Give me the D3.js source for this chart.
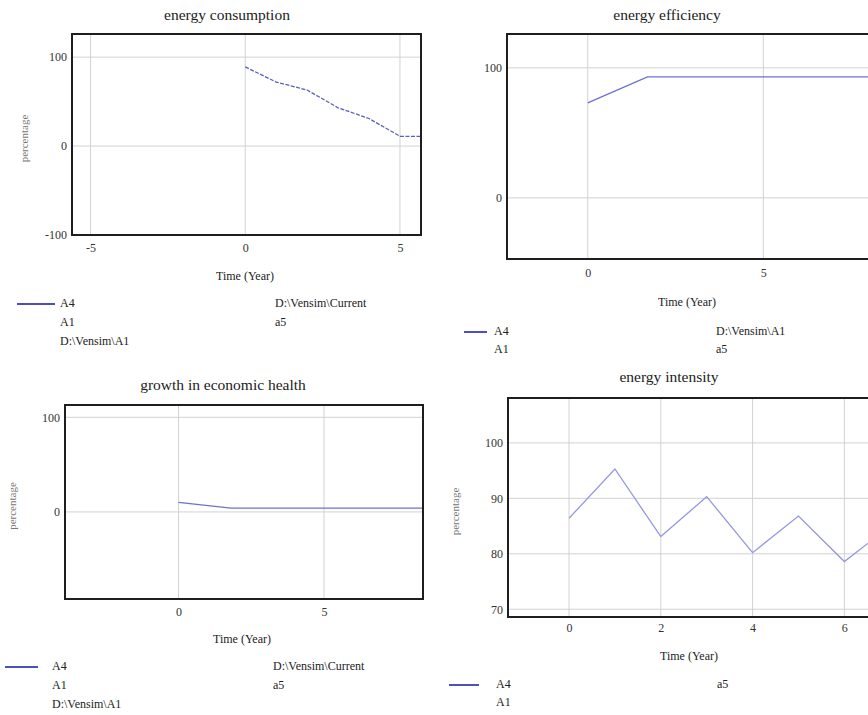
<!DOCTYPE html>
<html lang="en">
<head>
    <meta charset="UTF-8">
    <script src="https://cdn.jsdelivr.net/npm/d3@7/dist/d3.min.js"></script>
    <title>vensim panels</title>
    <style>
        body { margin: 0; background: #fff; }
        text { font-family: "Liberation Serif", "DejaVu Serif", serif; fill: #222; }
    </style>
</head>
<body>
</body>
<script>

    // energy consumption
    let consumptionYears = [0, 1, 2, 3, 4, 5, 6],
        consumptionValues = [89, 72, 63, 43, 31, 11, 11]

    // energy efficiency
    let efficiencyYears = [0, 1.7, 10],
        efficiencyValues = [73, 93, 93]

    // growth in economic health
    let growthYears = [0, 1.8, 9],
        growthValues = [10, 4, 4]

    // energy intensity
    let intensityYears = [0, 1, 2, 3, 4, 5, 6, 7],
        intensityValues = [86.4, 95.3, 83.1, 90.3, 80.2, 86.8, 78.6, 85]

    let svg = d3.select("body")
        .append("svg")
        .attr("width", 868)
        .attr("height", 715)

    let panels = [
        {
            title: "energy consumption", ylabel: "percentage",
            box: [72, 34, 421, 235], xd: [-5.6, 5.68], yd: [-100, 126],
            xticks: [-5, 0, 5], yticks: [-100, 0, 100],
            xs: consumptionYears, ys: consumptionValues, dash: "4,1.5",
            color: "#5a5ec4", titleX: 227, xlabX: 245,
            titleY: 16, tickY: 248, xlabY: 277, ylabX: 25,
            leg: {x1: 17, x2: 55, tx: 60, y: 304, dy: 19, col2: 275,
                left: ["A4", "A1", "D:\\Vensim\\A1"], right: ["D:\\Vensim\\Current", "a5"]}
        },
        {
            title: "energy efficiency", ylabel: null,
            box: [507, 34, 960, 259], xd: [-2.3, 10.6], yd: [-47, 126],
            xticks: [0, 5], gridx: [0, 5, 10], yticks: [0, 100],
            xs: efficiencyYears, ys: efficiencyValues, dash: null,
            color: "#6d70cf", titleX: 667, xlabX: 687,
            titleY: 16, tickY: 273, xlabY: 303, ylabX: null,
            leg: {x1: 464, x2: 487, tx: 494, y: 332, dy: 18, col2: 716,
                left: ["A4", "A1"], right: ["D:\\Vensim\\A1", "a5"]}
        },
        {
            title: "growth in economic health", ylabel: "percentage",
            box: [65, 405, 423, 599], xd: [-3.9, 8.4], yd: [-92, 113],
            xticks: [0, 5], yticks: [0, 100],
            xs: growthYears, ys: growthValues, dash: null,
            color: "#6d70cf", titleX: 223, xlabX: 242,
            titleY: 386, tickY: 612, xlabY: 640, ylabX: 13,
            leg: {x1: 5, x2: 38, tx: 52, y: 667, dy: 19, col2: 273,
                left: ["A4", "A1", "D:\\Vensim\\A1"], right: ["D:\\Vensim\\Current", "a5"]}
        },
        {
            title: "energy intensity", ylabel: "percentage",
            box: [508, 398, 960, 617], xd: [-1.33, 8.52], yd: [68.6, 108.1],
            xticks: [0, 2, 4, 6], gridx: [0, 2, 4, 6, 8], yticks: [70, 80, 90, 100],
            xs: intensityYears, ys: intensityValues, dash: null,
            color: "#9597e0", titleX: 669, xlabX: 689,
            titleY: 378, tickY: 628, xlabY: 657, ylabX: 456,
            leg: {x1: 449, x2: 479, tx: 496, y: 685, dy: 18, col2: 717,
                left: ["A4", "A1"], right: ["a5"]}
        }
    ]

    panels.forEach(function (p, i) {
        render(p, i)
    })

    function render(p, i) {
        let x = d3.scaleLinear().domain(p.xd).range([p.box[0], p.box[2]]),
            y = d3.scaleLinear().domain(p.yd).range([p.box[3], p.box[1]])

        let g = svg.append("g")

        g.append("clipPath").attr("id", "clip" + i)
            .append("rect")
            .attr("x", p.box[0]).attr("y", p.box[1])
            .attr("width", p.box[2] - p.box[0]).attr("height", p.box[3] - p.box[1])

        // grid
        g.append("g").selectAll("line")
            .data(p.gridx || p.xticks)
            .enter()
            .append("line")
            .attr("x1", d => x(d)).attr("x2", d => x(d))
            .attr("y1", p.box[1]).attr("y2", p.box[3])
            .attr("stroke", "#d2d2d2").attr("stroke-width", 1)
        g.append("g").selectAll("line")
            .data(p.yticks)
            .enter()
            .append("line")
            .attr("x1", p.box[0]).attr("x2", p.box[2])
            .attr("y1", d => y(d)).attr("y2", d => y(d))
            .attr("stroke", "#d2d2d2").attr("stroke-width", 1)

        // axes (labels only)
        let ax = g.append("g")
            .attr("transform", "translate(0," + (p.tickY - 5) + ")")
            .call(d3.axisBottom(x).tickValues(p.xticks).tickSize(0).tickFormat(d => String(d)))
        let ay = g.append("g")
            .attr("transform", "translate(" + (p.box[0] - 2) + ",0)")
            .call(d3.axisLeft(y).tickValues(p.yticks).tickSize(0).tickFormat(d => String(d)))
        ;[ax, ay].forEach(function (a) {
            a.select(".domain").remove()
            a.selectAll("text")
                .style("font-family", "'Liberation Serif', serif")
                .style("font-size", "12px")
                .style("fill", "#333")
        })
        ax.selectAll("text").attr("dy", "0.35em").attr("y", 5)

        // data line
        let line = d3.line()
            .x(function (d, j) { return x(p.xs[j]) })
            .y(function (d) { return y(d) })

        g.append("path")
            .attr("clip-path", "url(#clip" + i + ")")
            .attr("d", line(p.ys))
            .attr("fill", "none")
            .attr("stroke", p.color)
            .attr("stroke-width", 1.3)
            .attr("stroke-dasharray", p.dash)

        // frame
        g.append("rect")
            .attr("x", p.box[0]).attr("y", p.box[1])
            .attr("width", p.box[2] - p.box[0]).attr("height", p.box[3] - p.box[1])
            .attr("fill", "none")
            .attr("stroke", "#1e1e1e")
            .attr("stroke-width", 2)

        // titles
        g.append("text")
            .attr("x", p.titleX)
            .attr("y", p.titleY)
            .attr("text-anchor", "middle")
            .attr("dominant-baseline", "middle")
            .style("font-size", "15.5px")
            .text(p.title)

        g.append("text")
            .attr("x", p.xlabX)
            .attr("y", p.xlabY)
            .attr("text-anchor", "middle")
            .attr("dominant-baseline", "middle")
            .style("font-size", "12px")
            .text("Time (Year)")

        if (p.ylabel) {
            g.append("text")
                .attr("transform", "translate(" + p.ylabX + "," + ((p.box[1] + p.box[3]) / 2 + 4) + ") rotate(-90)")
                .attr("text-anchor", "middle")
                .attr("dominant-baseline", "middle")
                .style("font-size", "11px")
                .style("fill", "#777")
                .text(p.ylabel)
        }

        // legend
        let L = p.leg
        g.append("line")
            .attr("x1", L.x1).attr("x2", L.x2)
            .attr("y1", L.y).attr("y2", L.y)
            .attr("stroke", "#4a50c0").attr("stroke-width", 2)
        g.append("g").selectAll("text")
            .data(L.left)
            .enter()
            .append("text")
            .attr("x", L.tx)
            .attr("y", (d, j) => L.y + j * L.dy)
            .attr("dominant-baseline", "middle")
            .style("font-size", "12px")
            .text(d => d)
        g.append("g").selectAll("text")
            .data(L.right)
            .enter()
            .append("text")
            .attr("x", L.col2)
            .attr("y", (d, j) => L.y + j * L.dy)
            .attr("dominant-baseline", "middle")
            .style("font-size", "12px")
            .text(d => d)
    }

</script>
</html>
